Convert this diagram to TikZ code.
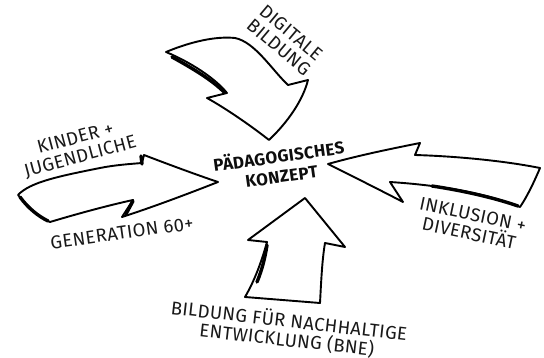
\documentclass[tikz,border=0pt]{standalone}
\usepackage{fontspec}
\setmainfont{Fira Sans}[LetterSpace=2]
\begin{document}
\begin{tikzpicture}[x=1pt,y=-1pt,
  arrowline/.style={draw=black,line width=1.9pt,line join=round,line cap=round,fill=white},
  shade/.style={draw=black,line width=3.4pt,line cap=round},
  lbl/.style={inner sep=0pt,align=center,text=black!90,font=\fontsize{18.5}{19}\selectfont},
  title/.style={inner sep=0pt,align=center,text=black!95,font=\bfseries\fontsize{17}{20}\selectfont}]
\useasboundingbox (0,0) rectangle (544,358);

% top arrow (Digitale Bildung)
\draw[arrowline] (166,52) .. controls (190,42) and (215,36) .. (235,38)
  .. controls (255,42) and (272,70) .. (288,85)
  -- (308,80)
  .. controls (303,100) and (288,122) .. (269,140)
  .. controls (250,125) and (225,108) .. (207,98)
  -- (227,93)
  .. controls (215,78) and (190,62) .. (166,52) -- cycle;
\draw[shade] (172,57) .. controls (192,68) and (212,80) .. (224,92);

% left arrow (Kinder + Jugendliche / Generation 60+)
\draw[arrowline] (18,195) .. controls (30,182) and (60,176) .. (100,168)
  .. controls (115,165) and (130,164) .. (142,163)
  -- (144,155)
  .. controls (170,165) and (200,176) .. (218,182)
  .. controls (185,195) and (150,208) .. (122,217)
  -- (133,200)
  .. controls (110,205) and (80,213) .. (50,222)
  .. controls (35,215) and (25,203) .. (18,195) -- cycle;
\draw[shade] (141,156) -- (142,164);
\draw[shade] (126,214) -- (133,201);
\draw[shade] (20,197) .. controls (28,208) and (38,216) .. (48,221);

% right arrow (Inklusion + Diversitaet)
\draw[arrowline] (328,164) .. controls (360,155) and (395,148) .. (420,143)
  -- (415,155)
  .. controls (450,156) and (500,160) .. (540,168)
  .. controls (535,180) and (527,197) .. (520,207)
  .. controls (490,195) and (450,186) .. (390,182)
  -- (403,202)
  .. controls (380,190) and (350,175) .. (328,164) -- cycle;
\draw[shade] (432,186) .. controls (465,191) and (495,198) .. (518,206);

% bottom arrow (BNE)
\draw[arrowline] (305,198) -- (345,247) -- (325,243)
  .. controls (322,260) and (321,285) .. (320,303)
  -- (245,297)
  .. controls (255,280) and (262,260) .. (267,242)
  -- (248,240) -- cycle;
\draw[shade] (267,245) .. controls (265,258) and (262,270) .. (257,282);

% labels
\node[lbl,rotate=-40] (digital) at (285,40) {DIGITALE\\BILDUNG};
\node[lbl,rotate=15] (kinder) at (78,148) {KINDER +\\JUGENDLICHE};
\node[lbl,rotate=8] (generation) at (122,233) {GENERATION 60+};
\node[title,rotate=8] (konzept) at (280,165) {PÄDAGOGISCHES\\KONZEPT};
\node[lbl,rotate=-12] (inklusion) at (471,224) {INKLUSION +\\DIVERSITÄT};
\node[lbl,rotate=-6.5] (bne) at (288,330) {BILDUNG FÜR NACHHALTIGE\\ENTWICKLUNG (BNE)};
\end{tikzpicture}
\end{document}
